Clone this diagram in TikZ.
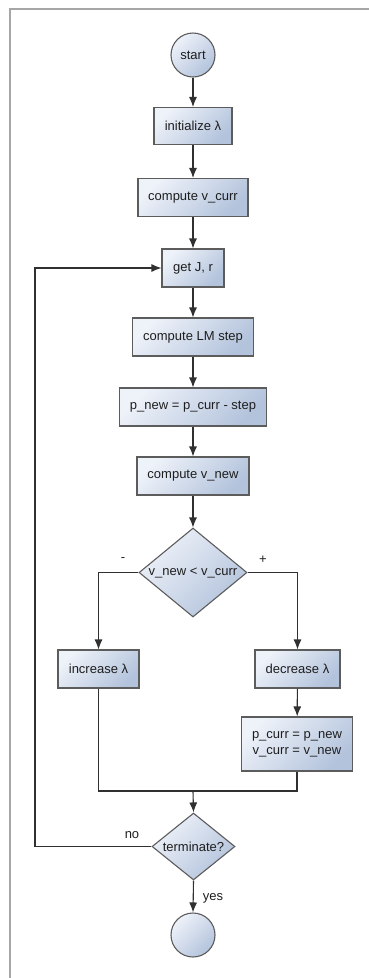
\documentclass[tikz,border=0pt]{standalone}
\usepackage{fontspec}
\setmainfont{Liberation Sans}
\usetikzlibrary{shapes.geometric,arrows.meta}
\definecolor{fillA}{HTML}{EEF2F9}
\definecolor{fillB}{HTML}{B3C3DC}
\definecolor{edgeC}{HTML}{5C5C5C}
\definecolor{lineC}{HTML}{303030}
\definecolor{frameC}{HTML}{A6A6A6}
\definecolor{txtC}{HTML}{1E1E1E}
\begin{document}
\begin{tikzpicture}[x=1pt,y=-1pt,
  font=\fontsize{13}{15}\selectfont, text=txtC,
  shadedfill/.style={draw=edgeC, line width=1.1pt, top color=fillA, bottom color=fillB, shading angle=45},
  procbox/.style={shadedfill, rectangle, inner sep=0pt, minimum width=#1, minimum height=38pt},
  termcirc/.style={shadedfill, circle, inner sep=0pt, minimum size=44pt},
  decision/.style n args={2}{shadedfill, diamond, inner sep=0pt, minimum width=#1, minimum height=#2},
  arr/.style={draw=lineC, line width=1.1pt, -{Latex[length=10pt,width=8pt]}},
  plainline/.style={draw=lineC, line width=1.1pt},
  lbl/.style={inner sep=0pt, text=txtC}]
\useasboundingbox (0,0) rectangle (369,978);
\draw[frameC, line width=2pt] (10,978) -- (10,9) -- (369,9);

\node[termcirc] (start) at (193,55) {start};
\node[procbox=78pt, minimum height=37pt] (init) at (193,126) {initialize λ};
\node[procbox=110pt] (vcurr) at (193,197.5) {compute v\_curr};
\node[procbox=62pt] (getJ) at (193,268) {get J, r};
\node[procbox=121pt] (lm) at (193,337) {compute LM step};
\node[procbox=147pt] (pnew) at (193,407) {p\_new = p\_curr - step};
\node[procbox=112pt] (vnew) at (193,476) {compute v\_new};
\node[decision={108pt}{89pt}] (cmp) at (193,572.5) {\makebox[0pt]{v\_new < v\_curr}};
\node[procbox=81pt] (inc) at (98.5,669) {increase λ};
\node[procbox=85pt] (dec) at (297.5,669) {decrease λ};
\node[procbox=111pt, minimum height=54pt, align=center, font=\fontsize{13}{16}\selectfont] (upd) at (297,744) {p\_curr = p\_new\\v\_curr = v\_new};
\node[decision={83pt}{67pt}] (term) at (193.5,846.5) {\makebox[0pt]{terminate?}};
\node[termcirc] (stop) at (193,935) {};

\coordinate (mrg) at (193,791);
\coordinate (loopx) at (35,0);

\draw[arr] (start) -- (init);
\draw[arr] (init) -- (vcurr);
\draw[arr] (vcurr) -- (getJ);
\draw[arr] (getJ) -- (lm);
\draw[arr] (lm) -- (pnew);
\draw[arr] (pnew) -- (vnew);
\draw[arr] (vnew) -- (cmp);
\draw[arr] (cmp.west) -| (inc.north);
\draw[arr] (cmp.east) -| (dec.north);
\draw[arr] (dec) -- (upd);
\draw[plainline] (inc.south) -- (inc.south |- mrg) -- (upd.south |- mrg) -- (upd.south);
\draw[arr] (mrg) -- (term.north);
\draw[arr] (term.west) -- (term.west -| loopx) -- (getJ.west -| loopx) -- (getJ.west);
\draw[arr] (term.south) -- (stop.north);

\node[lbl] (minus) at (123,560) {-};
\node[lbl] (plus) at (263,560) {+};
\node[lbl] (no) at (132,835) {no};
\node[lbl] (yes) at (213,898) {yes};
\end{tikzpicture}
\end{document}
